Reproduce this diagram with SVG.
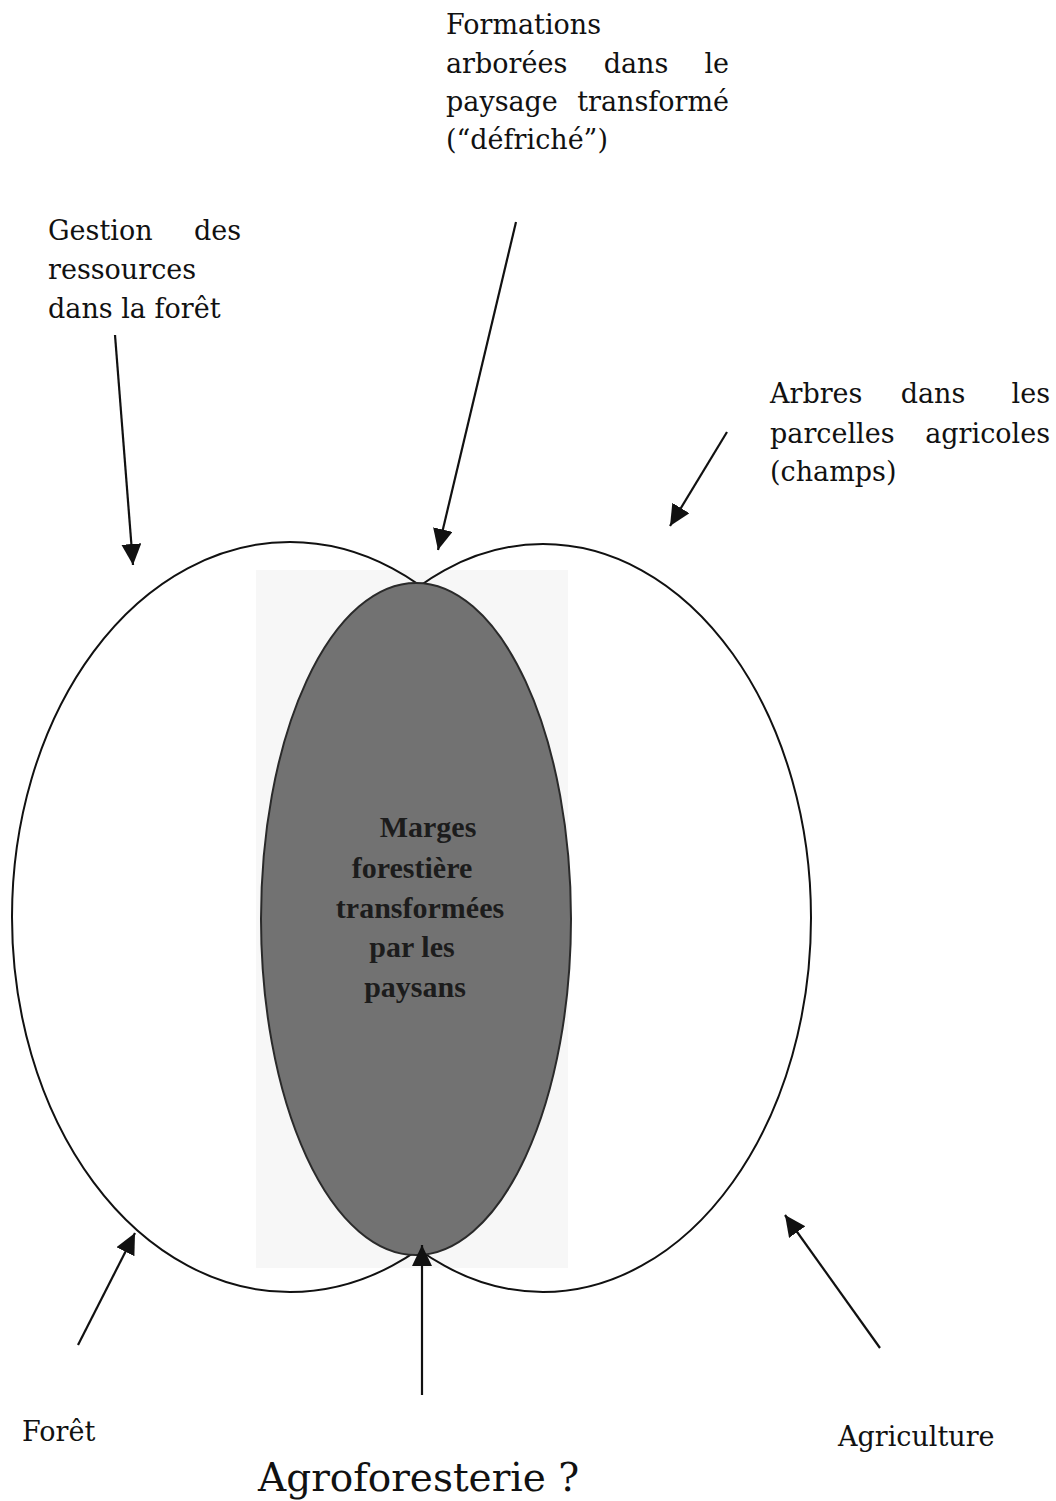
<svg xmlns="http://www.w3.org/2000/svg" width="1056" height="1501" viewBox="0 0 1056 1501">
<style>
.t{font-family:"DejaVu Serif","Liberation Serif",serif;font-size:27px;fill:#111}
.big{font-family:"DejaVu Serif","Liberation Serif",serif;font-size:39px;fill:#111}
.in{font-family:"Liberation Serif",serif;font-size:30px;font-weight:bold;fill:#1c1c1c;text-anchor:middle}
.set{fill:none;stroke:#111;stroke-width:2}
.arr{stroke:#111;stroke-width:2.2;fill:none;marker-end:url(#ah)}
</style>
<defs>
<marker id="ah" markerUnits="userSpaceOnUse" markerWidth="24" markerHeight="22" refX="21" refY="10" orient="auto">
<path d="M0,0 L21,10 L0,20 Z" fill="#111"/>
</marker>
</defs>
<rect width="1056" height="1501" fill="#fff"/>
<g id="background">
<rect x="256" y="570" width="312" height="698" fill="#f7f7f7"/>
</g>
<g id="foret">
<ellipse class="set" cx="290" cy="917" rx="278" ry="375"/>
</g>
<g id="agriculture">
<ellipse class="set" cx="543" cy="918" rx="268" ry="374"/>
</g>
<g id="marges">
<ellipse cx="416" cy="919" rx="155" ry="336" fill="#727272" stroke="#2a2a2a" stroke-width="2"/>
<text class="in" x="428" y="837">Marges</text>
<text class="in" x="412" y="878">forestière</text>
<text class="in" x="420" y="918">transformées</text>
<text class="in" x="412" y="957">par les</text>
<text class="in" x="415" y="997">paysans</text>
</g>
<g id="label-formations">
<text class="t" x="446" y="34">Formations</text>
<text class="t" x="446" y="73">arborées</text>
<text class="t" x="636" y="73" text-anchor="middle">dans</text>
<text class="t" x="729" y="73" text-anchor="end">le</text>
<text class="t" x="446" y="111">paysage</text>
<text class="t" x="729" y="111" text-anchor="end">transformé</text>
<text class="t" x="446" y="149">(“défriché”)</text>
</g>
<g id="label-gestion">
<text class="t" x="48" y="240">Gestion</text>
<text class="t" x="241" y="240" text-anchor="end">des</text>
<text class="t" x="48" y="279">ressources</text>
<text class="t" x="48" y="318">dans la forêt</text>
</g>
<g id="label-arbres">
<text class="t" x="770" y="403">Arbres</text>
<text class="t" x="933" y="403" text-anchor="middle">dans</text>
<text class="t" x="1050" y="403" text-anchor="end">les</text>
<text class="t" x="770" y="443">parcelles</text>
<text class="t" x="1050" y="443" text-anchor="end">agricoles</text>
<text class="t" x="770" y="481">(champs)</text>
</g>
<g id="label-foret">
<text class="t" x="22" y="1441">Forêt</text>
</g>
<g id="label-agriculture">
<text class="t" x="838" y="1446">Agriculture</text>
</g>
<g id="label-agroforesterie">
<text class="big" x="258" y="1491">Agroforesterie ?</text>
</g>
<g id="connectors">
<line class="arr" x1="115" y1="335" x2="133" y2="565"/>
<line class="arr" x1="516" y1="222" x2="438" y2="550"/>
<line class="arr" x1="727" y1="432" x2="670" y2="526"/>
<line class="arr" x1="78" y1="1345" x2="135" y2="1233"/>
<line class="arr" x1="422" y1="1395" x2="422" y2="1245"/>
<line class="arr" x1="880" y1="1348" x2="785" y2="1215"/>
</g>
</svg>
